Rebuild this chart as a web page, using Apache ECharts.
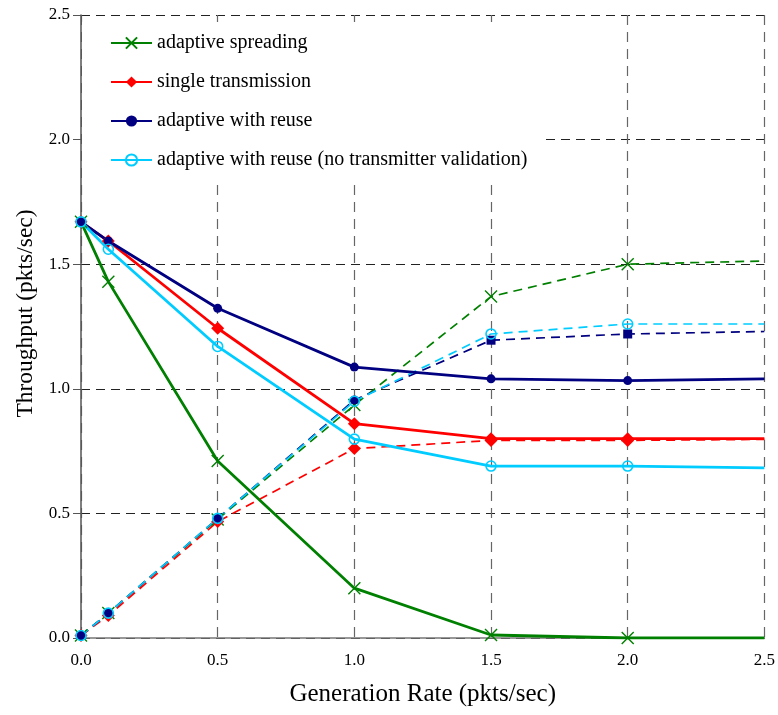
<!DOCTYPE html>
<html><head><meta charset="utf-8">
<script src="https://cdn.jsdelivr.net/npm/echarts@6/dist/echarts.min.js"></script>
<style>html,body{margin:0;padding:0;background:#fff}#c{width:778px;height:715px}</style>
</head><body><div id="c"></div>
<script>
const xValues = [0, 0.1, 0.5, 1.0, 1.5, 2.0, 2.5];
const xTicks = ['0.0', '0.5', '1.0', '1.5', '2.0', '2.5'];
const yTicks = ['0.0', '0.5', '1.0', '1.5', '2.0', '2.5'];
const seriesNames = ['adaptive spreading', 'single transmission', 'adaptive with reuse', 'adaptive with reuse (no transmitter validation)'];
const spreadingSolid = [1.67, 1.43, 0.71, 0.20, 0.012, 0.0, 0.0];
const singleSolid = [1.67, 1.593, 1.243, 0.86, 0.80, 0.80, 0.80];
const reuseSolid = [1.67, 1.593, 1.323, 1.087, 1.04, 1.033, 1.04];
const reuseNoValSolid = [1.67, 1.56, 1.17, 0.798, 0.69, 0.69, 0.683];
const spreadingDashed = [0.01, 0.1, 0.476, 0.935, 1.37, 1.50, 1.513];
const singleDashed = [0.01, 0.09, 0.467, 0.76, 0.793, 0.793, 0.797];
const reuseDashed = [0.01, 0.1, 0.48, 0.955, 1.195, 1.22, 1.23];
const reuseNoValDashed = [0.01, 0.1, 0.48, 0.95, 1.22, 1.26, 1.26];

const GREEN = '#008000', RED = '#FF0000', NAVY = '#000080', CYAN = '#00CCFF';
const XPATH = 'path://M0,0L10,10M10,0L0,10';
const FONT = 'Liberation Serif';
const last = xValues.length - 1;
const pts = arr => arr.map((v, i) => [xValues[i], v]);
function sz(s) { return (v, p) => p.dataIndex === last ? 0 : s; }

function mk(name, arr, color, symbol, size, dashed, hollow) {
  return {
    name: name, type: 'line', data: pts(arr), symbol: symbol, symbolSize: sz(size),
    showSymbol: true, animation: false, clip: true,
    lineStyle: { color: color, width: dashed ? 1.7 : 2.8, type: dashed ? [9, 6] : 'solid' },
    itemStyle: { color: hollow ? 'rgba(255,255,255,0)' : color, borderColor: color,
      borderWidth: symbol === XPATH ? 1.4 : (hollow ? 1.6 : 0) },
    emphasis: { disabled: true }, z: dashed ? 2 : 3
  };
}

const chart = echarts.init(document.getElementById('c'), null, { renderer: 'canvas' });
chart.setOption({
  backgroundColor: '#fff',
  textStyle: { fontFamily: FONT },
  grid: { left: 81, right: 13, top: 15, bottom: 77, containLabel: false },
  legend: {
    data: seriesNames.map(n => ({ name: n })),
    orient: 'vertical', left: 82, top: 22, itemWidth: 41, itemHeight: 14, itemGap: 19,
    backgroundColor: '#fff', padding: [11, 15, 12, 28],
    textStyle: { fontFamily: FONT, fontSize: 20, color: '#000' }, z: 10
  },
  xAxis: {
    type: 'value', min: 0, max: 2.5, interval: 0.5,
    name: 'Generation Rate (pkts/sec)', nameLocation: 'middle', nameGap: 44,
    nameTextStyle: { fontFamily: FONT, fontSize: 25, color: '#000' },
    axisLine: { show: true, onZero: false, lineStyle: { color: '#777', width: 1.5 } },
    axisTick: { show: false },
    axisLabel: { fontFamily: FONT, fontSize: 17, color: '#000', margin: 14,
      formatter: v => xTicks[Math.round(v / 0.5)] },
    splitLine: { show: true, lineStyle: { color: '#666', width: 1.2, type: [10, 7] } }
  },
  yAxis: {
    type: 'value', min: 0, max: 2.5, interval: 0.5,
    name: 'Throughput (pkts/sec)', nameLocation: 'middle', nameGap: 43,
    nameTextStyle: { fontFamily: FONT, fontSize: 23.5, color: '#000', padding: [0, 0, 0, 26] },
    axisLine: { show: true, onZero: false, lineStyle: { color: '#555', width: 1.5 } },
    axisTick: { show: true, length: 8, lineStyle: { color: '#555' } },
    axisLabel: { fontFamily: FONT, fontSize: 17, color: '#000', margin: 11,
      formatter: v => yTicks[Math.round(v / 0.5)] },
    splitLine: { show: true, lineStyle: { color: '#222', width: 1, type: [9, 6] } }
  },
  series: [
    mk(seriesNames[0] + ' ', spreadingDashed, GREEN, XPATH, 12, true),
    mk(seriesNames[1] + ' ', singleDashed, RED, 'diamond', 13, true),
    mk(seriesNames[2] + ' ', reuseDashed, NAVY, (v, p) => v[0] >= 1.5 ? 'rect' : 'circle', 9, true),
    mk(seriesNames[3] + ' ', reuseNoValDashed, CYAN, 'circle', 10, true, true),
    mk(seriesNames[0], spreadingSolid, GREEN, XPATH, 12, false),
    mk(seriesNames[1], singleSolid, RED, 'diamond', 13, false),
    mk(seriesNames[2], reuseSolid, NAVY, 'circle', 9, false),
    mk(seriesNames[3], reuseNoValSolid, CYAN, 'circle', 10, false, true)
  ]
});
</script></body></html>
